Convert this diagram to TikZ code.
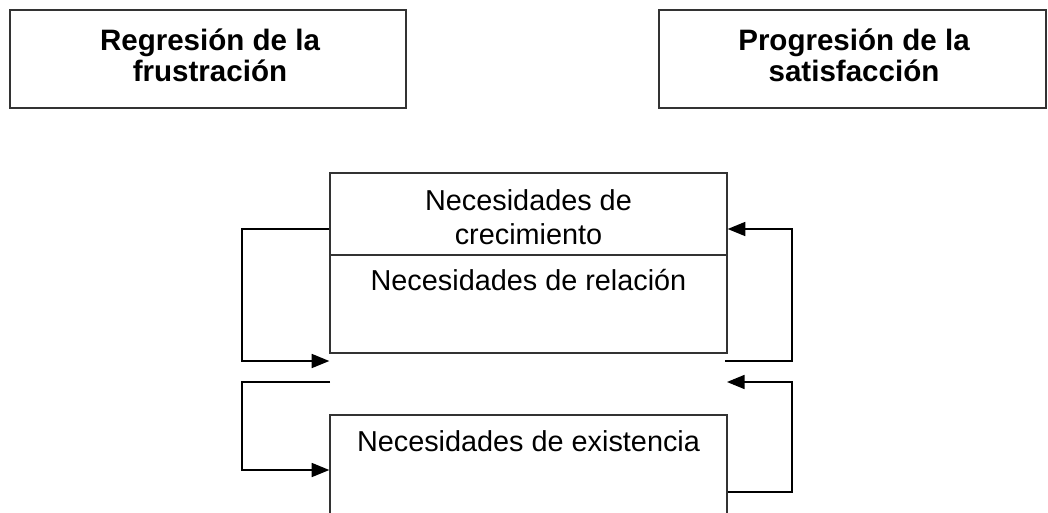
\documentclass[tikz,border=0pt]{standalone}
\usepackage{fontspec}
\setmainfont{Liberation Sans}
\usetikzlibrary{positioning,arrows.meta}

\tikzset{
  box/.style={draw=black!80,rectangle,inner sep=0pt},
  txt/.style={align=center,font=\fontsize{20.5}{24.5}\selectfont},
  btxt/.style={align=center,font=\fontsize{21}{22}\selectfont\bfseries},
}

\begin{document}
\begin{tikzpicture}[x=0.025cm,y=-0.025cm,line width=1pt,
  >={Triangle[length=12.5pt,width=10pt]}]

\useasboundingbox (0,0) rectangle (1048,513);
\clip (0,0) rectangle (1048,513);

% titles
\node[box,minimum width=396*0.025cm,minimum height=98*0.025cm] (regr) at (208,59) {};
\node[btxt] (regrt) at (210,55) {Regresión de la\\frustración};
\node[box,minimum width=387*0.025cm,minimum height=98*0.025cm] (prog) at (852.5,59) {};
\node[btxt] (progt) at (854,55) {Progresión de la\\satisfacción};

% needs
\node[box,minimum width=397*0.025cm,minimum height=82*0.025cm] (crec) at (528.5,214) {};
\node[txt] (crect) at (528.5,217) {Necesidades de\\crecimiento};
\node[box,minimum width=397*0.025cm,minimum height=98*0.025cm] (rel) at (528.5,304) {};
\node[txt,below=7pt of rel.north] (relt) {Necesidades de relación};
\node[box,minimum width=397*0.025cm,minimum height=130*0.025cm] (exis) at (528.5,480) {};
\node[txt,below=8pt of exis.north] (exist) {Necesidades de existencia};

% free ends
\coordinate (a1) at (242,229);
\coordinate (a2) at (242,361);
\coordinate (b0) at (330,382);
\coordinate (b1) at (242,382);
\coordinate (b2) at (242,470);
\coordinate (c0) at (725,361);
\coordinate (c1) at (792,361);
\coordinate (c2) at (792,229);
\coordinate (d1) at (792,492);
\coordinate (d2) at (792,382);
\coordinate (d3) at (727,382);

% regression
\draw[->] (crec.west |- a1) -- (a1) -- (a2) -- (rel.west |- a2);
\draw[->] (b0) -- (b1) -- (b2) -- (exis.west |- b2);
% progression
\draw[->] (c0) -- (c1) -- (c2) -- (crec.east |- c2);
\draw[->] (exis.east |- d1) -- (d1) -- (d2) -- (d3);

\end{tikzpicture}
\end{document}
